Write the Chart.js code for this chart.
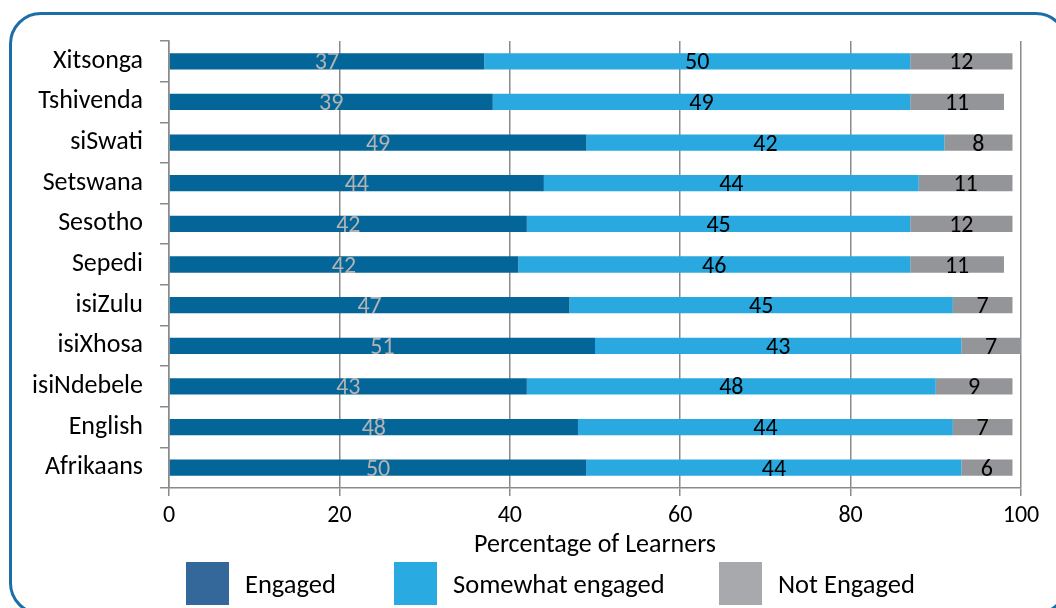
<!DOCTYPE html>
<html><head><meta charset="utf-8">
<script src="https://cdn.jsdelivr.net/npm/chart.js@4.4.0/dist/chart.umd.min.js"></script>
<style>
html,body{margin:0;padding:0;background:#fff;overflow:hidden;width:1056px;height:608px}
#wrap{position:relative;width:1056px;height:608px;overflow:hidden}
#frame{position:absolute;left:9px;top:12px;width:1059px;height:603px;border:3px solid #1b6ea8;border-radius:32px;box-sizing:border-box}
#c{position:absolute;left:0;top:0}
.leg{position:absolute;top:562px;height:43px;display:flex;align-items:center;font-family:Carlito,Lato,sans-serif;font-size:26.5px;color:#000;white-space:nowrap}
.sw{width:43px;height:43px;margin-right:16px;flex:none}
</style></head>
<body>
<div id="wrap">
<div id="frame"></div>
<canvas id="c" width="1056" height="608"></canvas>
<div class="leg" style="left:186px"><div class="sw" style="background:#35689a"></div><span>Engaged</span></div>
<div class="leg" style="left:394px"><div class="sw" style="background:#29abe2"></div><span>Somewhat engaged</span></div>
<div class="leg" style="left:719px"><div class="sw" style="background:#a7a9ac"></div><span>Not Engaged</span></div>
</div>
<script>
const categories = ['Xitsonga','Tshivenda','siSwati','Setswana','Sesotho','Sepedi','isiZulu','isiXhosa','isiNdebele','English','Afrikaans'];
const engaged = [37,38,49,44,42,41,47,50,42,48,49];
const engagedLabels = ['37','39','49','44','42','42','47','51','43','48','50'];
const somewhatEngaged = [50,49,42,44,45,46,45,43,48,44,44];
const notEngaged = [12,11,8,11,12,11,7,7,9,7,6];
const xTicks = [0,20,40,60,80,100];
const seriesNames = ['Engaged','Somewhat engaged','Not Engaged'];

const FONT = 'Carlito, Lato, sans-serif';
const GRID = '#8a8a8a';

const valueLabels = {
  id: 'valueLabels',
  afterDatasetsDraw(chart) {
    const ctx = chart.ctx;
    chart.data.datasets.forEach((ds, di) => {
      const meta = chart.getDatasetMeta(di);
      meta.data.forEach((bar, i) => {
        const p = bar.getProps(['x', 'y', 'base'], true);
        ctx.save();
        ctx.font = '24px ' + FONT;
        ctx.fillStyle = ds.labelColor;
        ctx.textAlign = 'center';
        ctx.textBaseline = 'middle';
        ctx.fillText(ds.labelText[i], (p.x + p.base) / 2, p.y + 2);
        ctx.restore();
      });
    });
  }
};

new Chart(document.getElementById('c'), {
  type: 'bar',
  data: {
    labels: categories,
    datasets: [
      {label: seriesNames[0], data: engaged, backgroundColor: '#046698', labelText: engagedLabels, labelColor: '#b3b3b3'},
      {label: seriesNames[1], data: somewhatEngaged, backgroundColor: '#29a9e0', labelText: somewhatEngaged.map(String), labelColor: '#000'},
      {label: seriesNames[2], data: notEngaged, backgroundColor: '#939598', labelText: notEngaged.map(String), labelColor: '#000'}
    ]
  },
  options: {
    indexAxis: 'y',
    responsive: false,
    animation: false,
    events: [],
    categoryPercentage: 1,
    barPercentage: 0.4,
    layout: {padding: {top: 41, right: 35, left: 0, bottom: 47}},
    plugins: {legend: {display: false}, tooltip: {enabled: false}},
    scales: {
      x: {
        stacked: true, min: 0, max: 100,
        afterBuildTicks: s => { s.ticks = xTicks.map(v => ({value: v})); },
        ticks: {font: {family: FONT, size: 24}, color: '#000', padding: 6, maxRotation: 0},
        grid: {color: GRID, lineWidth: 1.5, tickLength: 8, drawTicks: true},
        border: {display: true, color: GRID, width: 1.5},
        title: {display: true, text: 'Percentage of Learners', font: {family: FONT, size: 26}, color: '#000', padding: 0},
        afterFit: s => { s.height = 73; }
      },
      y: {
        stacked: true,
        ticks: {font: {family: FONT, size: 26}, color: '#000', padding: 17},
        grid: {color: GRID, lineWidth: 1.5, tickLength: 9, drawOnChartArea: false, drawTicks: true, offset: true},
        border: {display: true, color: GRID, width: 1.5},
        afterFit: s => { s.width = 169; }
      }
    }
  },
  plugins: [valueLabels]
});
</script>
</body></html>
